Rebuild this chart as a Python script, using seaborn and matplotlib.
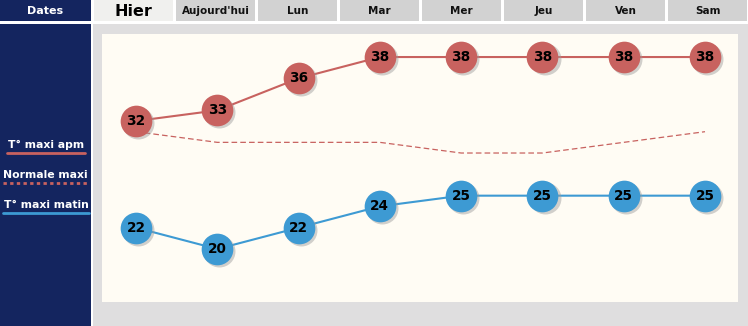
import matplotlib
matplotlib.use("Agg")
import matplotlib.pyplot as plt
import matplotlib.transforms as mtransforms
from matplotlib.patches import Rectangle
from matplotlib.lines import Line2D
import seaborn as sns
import pandas as pd

# ---- data -------------------------------------------------------------
days = ["Hier", "Aujourd'hui", "Lun", "Mar", "Mer", "Jeu", "Ven", "Sam"]
tmax_apm = [32, 33, 36, 38, 38, 38, 38, 38]
normale_maxi = [31, 30, 30, 30, 29, 29, 30, 31]
tmax_matin = [22, 20, 22, 24, 25, 25, 25, 25]

RED = "#c8625f"
BLUE = "#3d9ad3"
NAVY = "#14255f"
CREAM = "#fffcf4"
PANEL_GRAY = "#dfdedf"
HEAD_GRAY = "#d2d2d2"
HEAD_LIGHT = "#f0f0ee"

sns.set_theme(style="white")
plt.rcParams["font.family"] = ["DejaVu Sans"]

W, H = 748, 326
fig = plt.figure(figsize=(W / 100, H / 100), dpi=100)
fig.patch.set_facecolor("white")


def px_rect(x0, y0, x1, y1, color, z=0):
    """Rectangle given in pixel coords (origin top-left)."""
    fig.add_artist(Rectangle((x0 / W, 1 - y1 / H), (x1 - x0) / W, (y1 - y0) / H,
                             transform=fig.transFigure, facecolor=color,
                             edgecolor="none", zorder=z))


def px_text(x, y, s, **kw):
    fig.text(x / W, 1 - y / H, s, ha="center", va="center", **kw)


# left navy column
px_rect(0, 0, 91, 21, NAVY)
px_rect(0, 24, 91, H, NAVY)
px_text(45.5, 11, "Dates", color="white", fontsize=8, fontweight="bold")

# header cells
cell_w, gap, x_start = 79, 3, 94
for i, d in enumerate(days):
    x0 = x_start + i * (cell_w + gap)
    x1 = min(x0 + cell_w, W)
    if i == 0:
        px_rect(x0, 0, x1, 21, HEAD_LIGHT)
        px_text((x0 + x1) / 2, 11, d, color="black", fontsize=11.5, fontweight="bold")
    else:
        px_rect(x0, 0, x1, 21, HEAD_GRAY)
        px_text((x0 + x1) / 2, 11, d, color="#111111", fontsize=7.5, fontweight="bold")

# gray panel around the chart
px_rect(93, 24, W, H, PANEL_GRAY)

# legend in the navy column
legend_items = [
    ("T° maxi apm", 145, 153, 7, 85, RED, "-"),
    ("Normale maxi", 175, 183, 3, 88, RED, (0, (1.2, 1.2))),
    ("T° maxi matin", 205, 213, 3, 89, BLUE, "-"),
]
for label, ty, ly, lx0, lx1, col, ls in legend_items:
    px_text((lx0 + lx1) / 2, ty, label, color="white", fontsize=7.8, fontweight="bold")
    fig.add_artist(Line2D([lx0 / W, lx1 / W], [1 - ly / H, 1 - ly / H],
                          transform=fig.transFigure, color=col, lw=2, linestyle=ls))

# ---- chart area ---------------------------------------------------------
ax = fig.add_axes([102 / W, (H - 302) / H, 636 / W, 268 / H])
ax.set_facecolor(CREAM)
for s in ax.spines.values():
    s.set_visible(False)

df = pd.DataFrame({"idx": range(len(days)), "apm": tmax_apm,
                   "normale": normale_maxi, "matin": tmax_matin})

sns.lineplot(data=df, x="idx", y="normale", ax=ax, color=RED, lw=0.9,
             linestyle=(0, (4.5, 2.5)), zorder=2)
sns.lineplot(data=df, x="idx", y="apm", ax=ax, color=RED, lw=1.5, zorder=3)
sns.lineplot(data=df, x="idx", y="matin", ax=ax, color=BLUE, lw=1.5, zorder=3)

shadow = mtransforms.offset_copy(ax.transData, fig=fig, x=1.5, y=-1.5, units="points")
for col, series in (("apm", RED), ("matin", BLUE)):
    ax.scatter(df["idx"], df[col], s=530, color="#9a9a9a", alpha=0.45,
               transform=shadow, linewidths=0, zorder=4)
    sns.scatterplot(data=df, x="idx", y=col, ax=ax, s=520, color=series,
                    linewidth=0, zorder=5, legend=False)
    for xi, v in zip(df["idx"], df[col]):
        ax.text(xi, v, f"{v}", ha="center", va="center", fontsize=9.8,
                fontweight="bold", color="black", zorder=6)

ax.set_xlim(-0.418, 7.406)
ax.set_ylim(15.03, 40.16)
ax.set_xticks([])
ax.set_yticks([])
ax.set_xlabel("")
ax.set_ylabel("")

fig.savefig("out.png", dpi=100, facecolor=fig.get_facecolor())
